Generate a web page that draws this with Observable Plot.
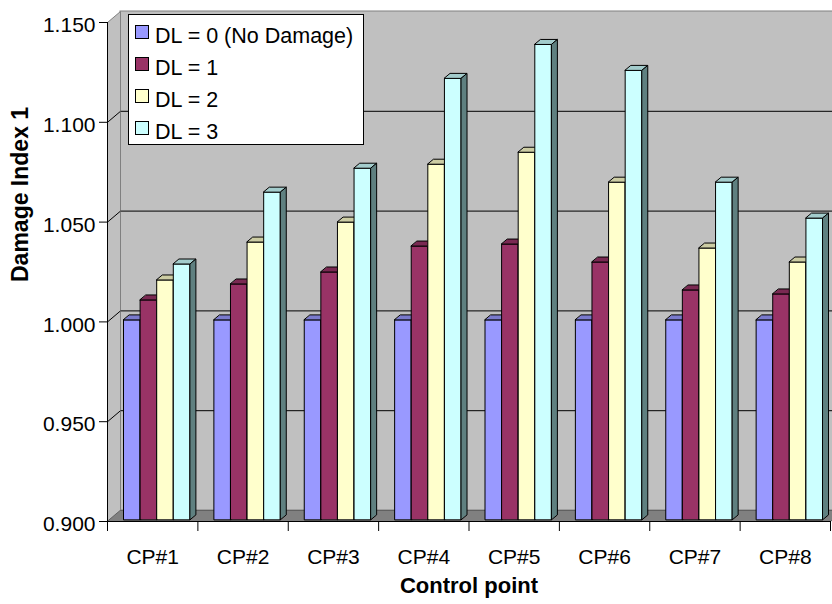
<!DOCTYPE html>
<html><head><meta charset="utf-8">
<script src="https://cdn.jsdelivr.net/npm/d3@7"></script>
<script src="https://cdn.jsdelivr.net/npm/@observablehq/plot@0.6"></script>
<style>
body{margin:0;background:#fff;}
#wrap{position:relative;width:832px;height:604px;overflow:hidden;font-family:"Liberation Sans",Arial,sans-serif;}
#legend{position:absolute;left:128px;top:14px;width:234px;height:129px;background:#fff;border:1px solid #000;}
.sw{position:absolute;left:6px;width:12px;height:12px;border:1px solid #000;}
.lt{position:absolute;left:26px;font-size:21.5px;white-space:nowrap;line-height:22px;color:#000;}
</style></head><body><div id="wrap"><div id="legend"></div></div>
<script>
// ---- data ----
const categories = ["CP#1","CP#2","CP#3","CP#4","CP#5","CP#6","CP#7","CP#8"];
const seriesNames = ["DL = 0 (No Damage)","DL = 1","DL = 2","DL = 3"];
const dl0 = [1.000,1.000,1.000,1.000,1.000,1.000,1.000,1.000];
const dl1 = [1.010,1.018,1.024,1.037,1.038,1.029,1.015,1.013];
const dl2 = [1.020,1.039,1.049,1.078,1.084,1.069,1.036,1.029];
const dl3 = [1.028,1.064,1.076,1.121,1.138,1.125,1.069,1.051];
const yTicks = [0.900,0.950,1.000,1.050,1.100,1.150];
const frontColors = ["#9999FF","#993366","#FFFFCC","#CCFFFF"];
const topColors = ["#7A7ACC","#7A2952","#CCCCA3","#A3CCCC"];
const sideColors = ["#4D4D80","#4D1A33","#808066","#5F8080"];
const seriesValues = [dl0, dl1, dl2, dl3];

// ---- layout ----
const W = 832, H = 604, mL = 107, mR = 2, mT = 22, mB = 83;
const yMin = 0.9, yMax = 1.15, nCat = categories.length;
const pxX = (W - mL - mR) / nCat, pxY = (H - mT - mB) / (yMax - yMin);
const ox = p => p / pxX, oy = p => p / pxY;
const WX = 13, WY = 11; // wall depth in px

// polygons for walls
const polys = [];
function addPoly(id, pts, fill, stroke) {
  pts.forEach(([x, y]) => polys.push({id, x, y, fill, stroke}));
}
addPoly("leftwall", [[0,yMin],[0,yMax],[ox(WX),yMax+oy(WY)],[ox(WX),yMin+oy(WY)]], "#C0C0C0", "#808080");
addPoly("floor", [[0,yMin],[nCat,yMin],[nCat+ox(WX),yMin+oy(WY)],[ox(WX),yMin+oy(WY)]], "#808080", "#606060");

// bars
const barW = ox(16.6), barOff = ox(16), bdx = ox(6), bdy = oy(5), lift = oy(2);
const bars = [];
categories.forEach((c, i) => seriesValues.forEach((vals, j) => {
  const xl = i + barOff + j * barW, xr = xl + barW;
  bars.push({c, i, j, v: vals[i], xl, xr, yb: yMin + lift, yt: vals[i] + lift});
}));
const barPolys = [];
bars.forEach((b, k) => {
  const push = (id, pts, fill) => pts.forEach(([x, y]) => barPolys.push({id: id + k, x, y, fill, k, part: id}));
  push("front", [[b.xl,b.yb],[b.xl,b.yt],[b.xr,b.yt],[b.xr,b.yb]], frontColors[b.j]);
  push("top", [[b.xl,b.yt],[b.xr,b.yt],[b.xr+bdx,b.yt+bdy],[b.xl+bdx,b.yt+bdy]], topColors[b.j]);
  push("side", [[b.xr,b.yb],[b.xr,b.yt],[b.xr+bdx,b.yt+bdy],[b.xr+bdx,b.yb+bdy]], sideColors[b.j]);
});
// order: series by series so that next bar's front covers previous side
barPolys.sort((a, b) => (bars[a.k].j - bars[b.k].j) || (a.k - b.k));

const gridVals = yTicks.slice(1, -1);
const fmt = d3.format(".3f");

const chart = Plot.plot({
  width: W, height: H,
  marginLeft: mL, marginRight: mR, marginTop: mT, marginBottom: mB,
  x: {type: "linear", domain: [0, nCat], axis: null},
  y: {type: "linear", domain: [yMin, yMax], axis: null},
  color: {type: "identity"},
  style: {fontFamily: "'Liberation Sans', Arial, sans-serif", fontSize: "21px", background: "transparent", overflow: "visible"},
  marks: [
    // back wall
    Plot.rect([0], {x1: () => 0, x2: () => nCat, y1: () => yMin, y2: () => yMax, dx: WX, dy: -WY, fill: "#C0C0C0", stroke: "#808080", strokeWidth: 1}),
    Plot.ruleY(gridVals, {x1: () => 0, x2: () => nCat, dx: WX, dy: -WY, stroke: "#000", strokeWidth: 1}),
    // left wall + floor
    Plot.line(polys, {x: "x", y: "y", z: "id", fill: "fill", stroke: "stroke", strokeWidth: 1, curve: "linear-closed"}),
    Plot.link(gridVals, {x1: () => 0, y1: d => d, x2: () => ox(WX), y2: d => d + oy(WY), stroke: "#000", strokeWidth: 1}),
    // bars
    Plot.line(barPolys, {x: "x", y: "y", z: "id", fill: "fill", stroke: "#000", strokeWidth: 1, curve: "linear-closed", strokeLinejoin: "miter"}),
    // axes
    Plot.ruleX([0], {y1: () => yMin, y2: () => yMax, stroke: "#000"}),
    Plot.ruleY(yTicks, {x1: () => 0, x2: () => -ox(8), stroke: "#000"}),
    Plot.text(yTicks, {x: () => 0, y: d => d, text: d => fmt(d), textAnchor: "end", dx: -12, dy: 3, fontSize: 21, fill: "#000"}),
    Plot.ruleY([yMin], {x1: () => 0, x2: () => nCat, stroke: "#000"}),
    Plot.ruleX(d3.range(nCat + 1), {y1: () => yMin, y2: () => yMin - oy(10), stroke: "#000"}),
    Plot.text(categories, {x: (d, i) => i + 0.5, y: () => yMin, dy: 36, fontSize: 21, fill: "#000"}),
    // titles
    Plot.text(["Damage Index 1"], {frameAnchor: "left", rotate: -90, dx: -87, dy: 10, fontWeight: "bold", fontSize: 23, fill: "#000"}),
    Plot.text(["Control point"], {frameAnchor: "bottom", dy: 71, fontWeight: "bold", fontSize: 22, fill: "#000"})
  ]
});
const wrap = document.getElementById("wrap");
wrap.insertBefore(chart, wrap.firstChild);
chart.style.position = "absolute"; chart.style.left = "0"; chart.style.top = "0";

// legend
const legend = document.getElementById("legend");
const rowY = [21, 53, 85, 117];
seriesNames.forEach((name, j) => {
  const sw = document.createElement("div");
  sw.className = "sw"; sw.style.background = frontColors[j];
  sw.style.top = (rowY[j] - 11) + "px";
  legend.appendChild(sw);
  const t = document.createElement("div");
  t.className = "lt"; t.textContent = name;
  t.style.top = (rowY[j] - 11) + "px";
  legend.appendChild(t);
});
</script></body></html>
